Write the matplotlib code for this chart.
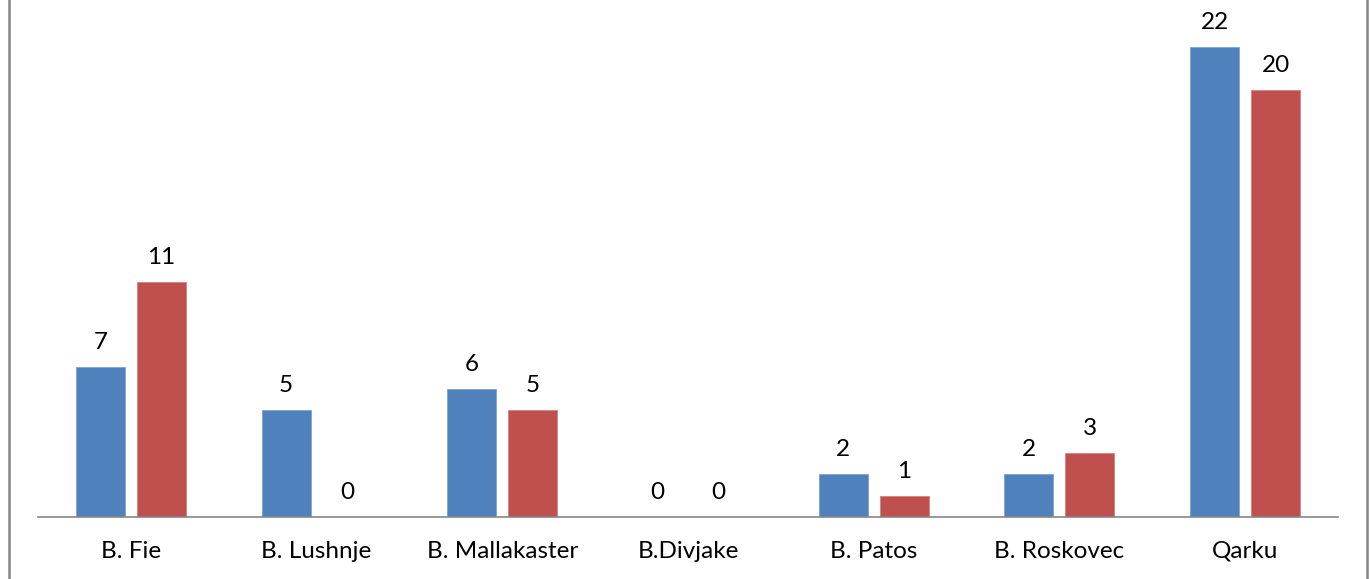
import numpy as np
import matplotlib.pyplot as plt
from matplotlib.lines import Line2D

categories = ["B. Fie", "B. Lushnje", "B. Mallakaster", "B.Divjake", "B. Patos", "B. Roskovec", "Qarku"]
series_a = [7, 5, 6, 0, 2, 2, 22]
series_b = [11, 0, 5, 0, 1, 3, 20]

blue = "#4F81BD"
red = "#C0504D"

plt.rcParams['font.family'] = ['Lato', 'DejaVu Sans']

fig = plt.figure(figsize=(13.71, 5.79), dpi=100)
ax = fig.add_axes([38 / 1371, 62 / 579, 1300 / 1371, 513 / 579])

x = np.arange(len(categories))
w = 0.264
off = (w + 0.065) / 2
bars_a = ax.bar(x - off, series_a, w, color=blue, edgecolor="#7FA3D0", linewidth=0.6)
bars_b = ax.bar(x + off, series_b, w, color=red, edgecolor="#D4827F", linewidth=0.6)

for bars in (bars_a, bars_b):
    ax.bar_label(bars, padding=10, fontsize=17.5, color="black")

ax.set_xlim(-0.5, len(categories) - 0.5)
ax.set_ylim(0, 24)
ax.set_xticks(x)
ax.set_xticklabels(categories, fontsize=17.5)
ax.tick_params(axis="x", length=0, pad=17)
ax.set_yticks([])
for s in ("top", "right", "left"):
    ax.spines[s].set_visible(False)
ax.spines["bottom"].set_color("#868686")
ax.spines["bottom"].set_linewidth(1.2)

# gray frame edges at left and right
fig.add_artist(Line2D([8.5 / 1371, 8.5 / 1371], [0, 1], transform=fig.transFigure, color="#868686", lw=1.8))
fig.add_artist(Line2D([1367 / 1371, 1367 / 1371], [0, 1], transform=fig.transFigure, color="#868686", lw=1.8))

fig.savefig("out.png", dpi=100)
